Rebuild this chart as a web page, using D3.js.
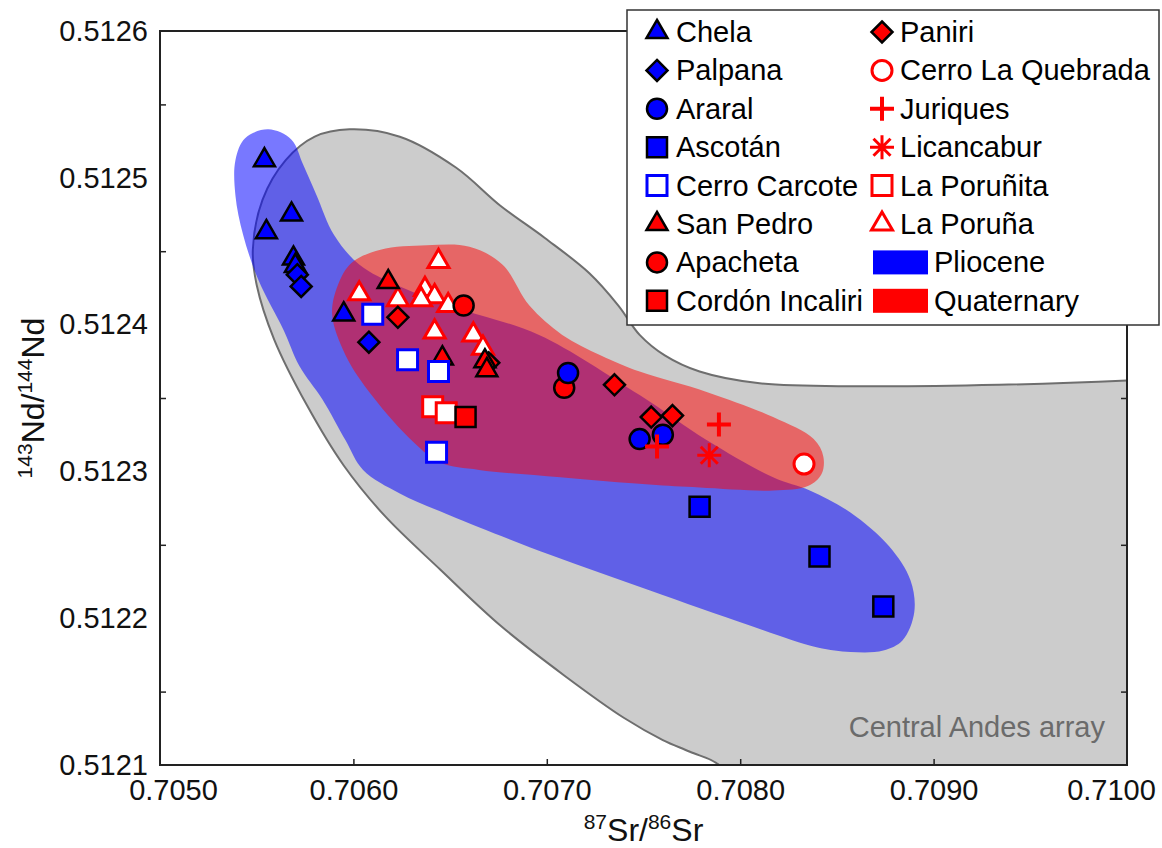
<!DOCTYPE html>
<html><head><meta charset="utf-8">
<script src="https://cdn.jsdelivr.net/npm/d3@7"></script>
<style>
body{margin:0;background:#fff}
text{font-family:"Liberation Sans",Arial,Helvetica,sans-serif}
</style>
</head><body>
<svg id="chart" width="1162" height="848"></svg>
<script>
// ---------- data ----------
const xTicks = [0.7050, 0.7060, 0.7070, 0.7080, 0.7090, 0.7100];
const yTicks = [0.5121, 0.5122, 0.5123, 0.5124, 0.5125, 0.5126];
const yMinorTicks = [0.51215, 0.51225, 0.51235, 0.51245, 0.51255];

const chela = [[0.70554,0.512512],[0.70568,0.512475],[0.70555,0.512463],[0.70569,0.512445],[0.70570,0.512440],[0.70595,0.512407]];
const palpana = [[0.70571,0.512434],[0.70573,0.512426],[0.70608,0.512388]];
const araral = [[0.70711,0.512367],[0.70748,0.512322],[0.70760,0.512325]];
const ascotan = [[0.70779,0.512276],[0.70841,0.512242],[0.70874,0.512208]];
const cerroCarcote = [[0.70610,0.512407],[0.70628,0.512376],[0.70644,0.512368],[0.70643,0.512313]];
const sanPedro = [[0.70618,0.512429],[0.70646,0.512377],[0.70668,0.512375],[0.70669,0.512369]];
const apacheta = [[0.70657,0.512413],[0.70709,0.512357]];
const cordonIncaliri = [[0.70658,0.512337]];
const paniri = [[0.70623,0.512405],[0.70735,0.512359],[0.70754,0.512337],[0.70765,0.512338],[0.70670,0.512374]];
const cerroLaQuebrada = [[0.70833,0.512305]];
const juriques = [[0.70789,0.512332],[0.70757,0.512317]];
const licancabur = [[0.70784,0.512311]];
const laPorunita = [[0.70641,0.512344],[0.70648,0.512340]];
const laPoruna = [[0.70603,0.512421],[0.70623,0.512417],[0.70644,0.512443],[0.70637,0.512424],[0.70642,0.512419],[0.70635,0.512417],[0.70649,0.512413],[0.70642,0.512395],[0.70662,0.512393],[0.70667,0.512384]];

// field outlines (Sr, Nd)
const centralAndesArray = [[0.70800,0.512076],[0.70789,0.512100],[0.70774,0.512109],[0.70760,0.512117],[0.70740,0.512132],[0.70709,0.512161],[0.70676,0.512195],[0.70645,0.512233],[0.70616,0.512270],[0.70595,0.512304],[0.70576,0.512345],[0.70559,0.512390],[0.70550,0.512427],[0.70548,0.512451],[0.70553,0.512485],[0.70565,0.512512],[0.70580,0.512528],[0.70598,0.512533],[0.70624,0.512528],[0.70653,0.512507],[0.70676,0.512481],[0.70699,0.512459],[0.70722,0.512435],[0.70737,0.512413],[0.70748,0.512393],[0.70761,0.512379],[0.70779,0.512368],[0.70810,0.512360],[0.70862,0.512358],[0.70934,0.512359],[0.71000,0.512362],[0.71027,0.512364],[0.71027,0.512076]];
const plioceneField = [[0.70539,0.512512],[0.70544,0.512527],[0.70556,0.512533],[0.70568,0.512526],[0.70574,0.512509],[0.70581,0.512488],[0.70590,0.512461],[0.70603,0.512441],[0.70624,0.512426],[0.70657,0.512410],[0.70696,0.512393],[0.70748,0.512352],[0.70783,0.512321],[0.70817,0.512296],[0.70836,0.512287],[0.70857,0.512272],[0.70877,0.512249],[0.70888,0.512226],[0.70890,0.512204],[0.70884,0.512185],[0.70874,0.512178],[0.70857,0.512177],[0.70840,0.512180],[0.70805,0.512195],[0.70753,0.512219],[0.70702,0.512243],[0.70650,0.512270],[0.70624,0.512285],[0.70605,0.512301],[0.70596,0.512321],[0.70584,0.512349],[0.70572,0.512372],[0.70564,0.512396],[0.70551,0.512430],[0.70543,0.512461],[0.70539,0.512488]];
const quaternaryField = [[0.70589,0.512407],[0.70592,0.512427],[0.70599,0.512442],[0.70614,0.512451],[0.70638,0.512454],[0.70660,0.512453],[0.70677,0.512441],[0.70691,0.512413],[0.70708,0.512393],[0.70728,0.512379],[0.70748,0.512368],[0.70783,0.512354],[0.70817,0.512337],[0.70838,0.512322],[0.70843,0.512310],[0.70842,0.512298],[0.70835,0.512290],[0.70817,0.512287],[0.70779,0.512289],[0.70753,0.512291],[0.70707,0.512296],[0.70665,0.512301],[0.70645,0.512306],[0.70631,0.512320],[0.70610,0.512351],[0.70596,0.512379]];

const legendCol1 = ["Chela","Palpana","Araral","Ascotán","Cerro Carcote","San Pedro","Apacheta","Cordón Incaliri"];
const legendCol2 = ["Paniri","Cerro La Quebrada","Juriques","Licancabur","La Poruñita","La Poruña","Pliocene","Quaternary"];

// ---------- styles ----------
const BLUE = "#0000ff", RED = "#ff0000";
const styles = {
  "Chela":            {shape:"triangle", fill:BLUE, stroke:"#000", sw:2.5},
  "Palpana":          {shape:"diamond",  fill:BLUE, stroke:"#000", sw:2.5},
  "Araral":           {shape:"circle",   fill:BLUE, stroke:"#000", sw:2.5},
  "Ascotán":          {shape:"square",   fill:BLUE, stroke:"#000", sw:2.5},
  "Cerro Carcote":    {shape:"square",   fill:"#fff", stroke:BLUE, sw:3},
  "San Pedro":        {shape:"triangle", fill:RED, stroke:"#000", sw:2.5},
  "Apacheta":         {shape:"circle",   fill:RED, stroke:"#000", sw:2.5},
  "Cordón Incaliri":  {shape:"square",   fill:RED, stroke:"#000", sw:2.5},
  "Paniri":           {shape:"diamond",  fill:RED, stroke:"#000", sw:2.5},
  "Cerro La Quebrada":{shape:"circle",   fill:"#fff", stroke:RED, sw:3},
  "Juriques":         {shape:"plus",     fill:"none", stroke:RED, sw:4},
  "Licancabur":       {shape:"asterisk", fill:"none", stroke:RED, sw:3},
  "La Poruñita":      {shape:"square",   fill:"#fff", stroke:RED, sw:3},
  "La Poruña":        {shape:"triangle", fill:"#fff", stroke:RED, sw:3}
};
const series = {
  "Chela":chela,"Palpana":palpana,"Araral":araral,"Ascotán":ascotan,"Cerro Carcote":cerroCarcote,
  "San Pedro":sanPedro,"Apacheta":apacheta,"Cordón Incaliri":cordonIncaliri,"Paniri":paniri,
  "Cerro La Quebrada":cerroLaQuebrada,"Juriques":juriques,"Licancabur":licancabur,
  "La Poruñita":laPorunita,"La Poruña":laPoruna
};
const drawOrder = ["La Poruña","Paniri","San Pedro","Chela","Palpana","Apacheta","La Poruñita","Cordón Incaliri","Cerro Carcote","Araral","Ascotán","Cerro La Quebrada","Juriques","Licancabur"];

function shapePath(shape){
  switch(shape){
    case "triangle": { const s=21, h=s*Math.sqrt(3)/2; return `M0,${-h*2/3}L${s/2},${h/3}L${-s/2},${h/3}Z`; }
    case "diamond": return "M0,-10.5L10.5,0L0,10.5L-10.5,0Z";
    case "square": return "M-10,-10H10V10H-10Z";
    case "circle": return d3.symbol(d3.symbolCircle, Math.PI*100)();
    case "plus": return "M-12,0H12M0,-12V12";
    case "asterisk": { const a=12, d=8.5; return `M0,${-a}V${a}M${-a},0H${a}M${-d},${-d}L${d},${d}M${-d},${d}L${d},${-d}`; }
  }
}
function drawMarker(g, name, cx, cy){
  const st = styles[name];
  g.append("path").attr("d", shapePath(st.shape))
    .attr("transform", `translate(${cx},${cy})`)
    .attr("fill", st.fill).attr("stroke", st.stroke).attr("stroke-width", st.sw)
    .attr("stroke-linejoin","miter");
}

// ---------- chart ----------
const svg = d3.select("#chart");
const L=160, R=1127, T=31, B=765;
const x = d3.scaleLinear().domain([0.705,0.710]).range([L,R]);
const y = d3.scaleLinear().domain([0.5121,0.5126]).range([B,T]);

svg.append("defs").append("clipPath").attr("id","plotclip")
  .append("rect").attr("x",L).attr("y",T).attr("width",R-L).attr("height",B-T);

const fields = svg.append("g").attr("clip-path","url(#plotclip)");
const closedLine = d3.line().x(d=>x(d[0])).y(d=>y(d[1])).curve(d3.curveCatmullRomClosed.alpha(0.5));

fields.append("path").datum(centralAndesArray).attr("d", closedLine)
  .attr("fill","#cccccc").attr("stroke","#6e6e6e").attr("stroke-width",2);
fields.append("path").datum(plioceneField).attr("d", closedLine)
  .attr("fill",BLUE).attr("fill-opacity",0.53).attr("stroke","none");
fields.append("path").datum(quaternaryField).attr("d", closedLine)
  .attr("fill",RED).attr("fill-opacity",0.5).attr("stroke","none");

svg.append("text").attr("x",1105).attr("y",737).attr("text-anchor","end")
  .attr("font-size",29).attr("fill","#6b6b6b").text("Central Andes array");

// frame
svg.append("rect").attr("x",L).attr("y",T).attr("width",R-L).attr("height",B-T)
  .attr("fill","none").attr("stroke","#222").attr("stroke-width",2);

// axes
const xAxis = d3.axisBottom(x).tickValues(xTicks).tickFormat(d3.format(".4f")).tickSizeInner(-6).tickSizeOuter(0).tickPadding(14);
const gx = svg.append("g").attr("transform",`translate(0,${B})`).call(xAxis);
gx.select(".domain").remove();
gx.selectAll(".tick line").attr("stroke","#222").attr("stroke-width",1.5)
  .filter(d=>d===0.7050||d===0.7100).remove();
gx.selectAll("text").attr("font-size",29).attr("fill","#111").attr("font-family","Liberation Sans, Arial, sans-serif")
  .attr("dx", d => d===0.7050 ? 13 : (d===0.7100 ? -16 : 0));

const yAxis = d3.axisLeft(y).tickValues(yTicks).tickFormat(d3.format(".4f")).tickSize(0).tickPadding(12);
const gy = svg.append("g").attr("transform",`translate(${L},0)`).call(yAxis);
gy.select(".domain").remove();
gy.selectAll("text").attr("font-size",29).attr("fill","#111").attr("font-family","Liberation Sans, Arial, sans-serif");

const yMinorL = d3.axisLeft(y).tickValues(yMinorTicks).tickSize(-6).tickFormat("");
const gyl = svg.append("g").attr("transform",`translate(${L},0)`).call(yMinorL);
gyl.select(".domain").remove();
gyl.selectAll(".tick line").attr("stroke","#222").attr("stroke-width",1.5);
const yMinorR = d3.axisRight(y).tickValues(yMinorTicks).tickSize(-6).tickFormat("");
const gyr = svg.append("g").attr("transform",`translate(${R},0)`).call(yMinorR);
gyr.select(".domain").remove();
gyr.selectAll(".tick line").attr("stroke","#222").attr("stroke-width",1.5);

// axis titles
const xt = svg.append("text").attr("x",(L+R)/2).attr("y",841).attr("text-anchor","middle").attr("font-size",32).attr("fill","#111");
xt.append("tspan").attr("font-size",21).attr("dy",-12).text("87");
xt.append("tspan").attr("dy",12).text("Sr/");
xt.append("tspan").attr("font-size",21).attr("dy",-12).text("86");
xt.append("tspan").attr("dy",12).text("Sr");

const yt = svg.append("text").attr("transform",`translate(44,${(T+B)/2}) rotate(-90)`).attr("text-anchor","middle").attr("font-size",32).attr("fill","#111");
yt.append("tspan").attr("font-size",21).attr("dy",-12).text("143");
yt.append("tspan").attr("dy",12).text("Nd/");
yt.append("tspan").attr("font-size",21).attr("dy",-12).text("144");
yt.append("tspan").attr("dy",12).text("Nd");

// points
const pts = svg.append("g");
drawOrder.forEach(name=>{
  series[name].forEach(d=>drawMarker(pts, name, x(d[0]), y(d[1])));
});

// legend
const lg = svg.append("g");
lg.append("rect").attr("x",627).attr("y",10).attr("width",532).attr("height",315)
  .attr("fill","#fff").attr("stroke","#333").attr("stroke-width",1.5);
const rowY = i => 32 + i*38.4;
legendCol1.forEach((name,i)=>{
  drawMarker(lg, name, 657, rowY(i));
  lg.append("text").attr("x",676).attr("y",rowY(i)+10).attr("font-size",29).attr("fill","#000").text(name);
});
legendCol2.forEach((name,i)=>{
  if(styles[name]){
    drawMarker(lg, name, 882, rowY(i));
    lg.append("text").attr("x",900).attr("y",rowY(i)+10).attr("font-size",29).attr("fill","#000").text(name);
  } else {
    lg.append("rect").attr("x",873).attr("y",rowY(i)-12).attr("width",55).attr("height",24)
      .attr("fill", name==="Pliocene"?BLUE:RED);
    lg.append("text").attr("x",934).attr("y",rowY(i)+10).attr("font-size",29).attr("fill","#000").text(name);
  }
});
</script>
</body></html>
